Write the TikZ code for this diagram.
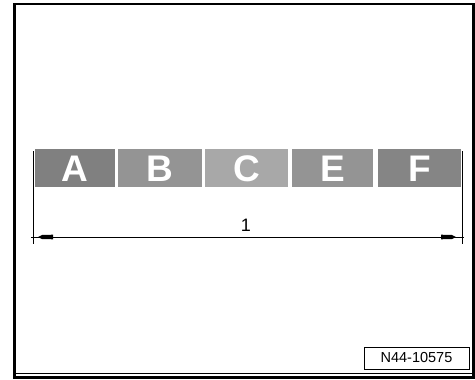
\documentclass[tikz,border=0pt]{standalone}
\usepackage{fontspec}
\setmainfont{Liberation Sans}
\usetikzlibrary{arrows.meta}
\definecolor{gA}{gray}{0.50}
\definecolor{gB}{gray}{0.58}
\definecolor{gC}{gray}{0.66}
\definecolor{gE}{gray}{0.58}
\definecolor{gF}{gray}{0.52}
\tikzset{
  cell/.style={fill=#1, draw=none, inner sep=0pt, minimum height=38pt, text=white,
    font=\fontsize{37}{37}\selectfont\bfseries, anchor=south west},
  frameline/.style={line width=2.6pt, draw=black},
  dimline/.style={line width=0.7pt, draw=black},
  tipshape/.style={fill=black, draw=none},
  refbox/.style={draw=black, line width=0.8pt, inner sep=0pt, minimum width=105pt, minimum height=22pt,
    font=\fontsize{14.5}{14.5}\selectfont}
}
\begin{document}
\begin{tikzpicture}[x=1pt,y=-1pt]
\useasboundingbox (0,0) rectangle (475,380);
% frame
\draw[frameline] (14.5,4) rectangle (473.5,377.5);
\draw[line width=0.8pt] (16,373.5) -- (472,373.5);
% cells
\node[cell=gA, minimum width=80pt] (A) at (35,187.5) {A};
\node[cell=gB, minimum width=84pt] (B) at (118,187.5) {B};
\node[cell=gC, minimum width=83pt] (C) at (205,187.5) {C};
\node[cell=gE, minimum width=81pt] (E) at (292,187.5) {E};
\node[cell=gF, minimum width=83pt] (F) at (378,187.5) {F};
% dimension
\coordinate (l1) at (33,151);
\coordinate (l2) at (33,244);
\coordinate (r1) at (462,151);
\coordinate (r2) at (462,244);
\coordinate (dl) at (31,237);
\coordinate (dr) at (464,237);
\draw[dimline] (l1) -- (l2);
\draw[dimline] (r1) -- (r2);
\draw[dimline] (dl) -- (dr);
\coordinate (tl) at (38,237);
\coordinate (tr) at (456,237);
\fill[tipshape] (tl) -- ++(4,-2) -- ++(11,-0.3) -- ++(0,4.6) -- ++(-11,-0.3) -- cycle;
\fill[tipshape] (tr) -- ++(-4,-2) -- ++(-11,-0.3) -- ++(0,4.6) -- ++(11,-0.3) -- cycle;
\node[font=\fontsize{18}{18}\selectfont, inner sep=0pt] (one) at (246,225) {1};
% reference label
\node[refbox] (ref) at (416.5,358) {N44-10575};
\end{tikzpicture}
\end{document}
